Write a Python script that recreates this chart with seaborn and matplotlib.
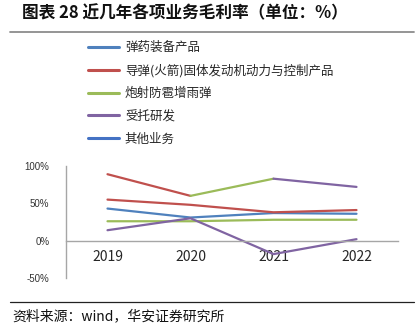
import matplotlib
matplotlib.use("Agg")
import matplotlib.pyplot as plt
from matplotlib.lines import Line2D
import seaborn as sns
import pandas as pd

sns.set_style("white")
plt.rcParams['font.family'] = ['Noto Sans CJK SC', 'DejaVu Sans']

years = ['2019', '2020', '2021', '2022']
series_names = ['弹药装备产品', '导弹(火箭)固体发动机动力与控制产品', '炮射防雹增雨弹', '受托研发', '其他业务']
series_colors = ['#4F81BD', '#C0504D', '#9BBB59', '#8064A2', '#4472C4']

ammo = [43, 31, 37, 36]
missile = [55, 48, 38, 41]
artillery = [26, 26, 28, 28]
entrusted = [14, 30, -18, 2]
# top line: drawn segment by segment, each segment in a different colour
top_line = [89, 60, 83, 72]
top_segment_colors = ['#C0504D', '#9BBB59', '#8064A2']

yticks = [-50, 0, 50, 100]
ytick_labels = ['-50%', '0%', '50%', '100%']

fig = plt.figure(figsize=(4.16, 3.32), dpi=100)
ax = fig.add_axes([66/416, 1 - 278/332, 332/416, 112/332])

xpos = list(range(len(years)))
main = [(ammo, series_colors[0]), (missile, series_colors[1]),
        (artillery, series_colors[2]), (entrusted, series_colors[3])]
for vals, c in main:
    df = pd.DataFrame({'x': xpos, 'y': vals})
    sns.lineplot(data=df, x='x', y='y', color=c, lw=1.6, ax=ax, legend=False)

for i, c in enumerate(top_segment_colors):
    df = pd.DataFrame({'x': xpos[i:i+2], 'y': top_line[i:i+2]})
    sns.lineplot(data=df, x='x', y='y', color=c, lw=1.6, ax=ax, legend=False)

ax.set_xlim(-0.5, 3.5)
ax.set_ylim(-50, 100)
ax.set_xlabel('')
ax.set_ylabel('')
ax.set_yticks(yticks)
ax.set_yticklabels(ytick_labels, fontsize=7, family=['Liberation Sans', 'DejaVu Sans'], color='#333333')
ax.set_xticks(xpos)
ax.set_xticklabels(years, fontsize=7.8, family=['Liberation Sans', 'DejaVu Sans'], color='#222222')
ax.tick_params(axis='y', length=0, pad=12)
ax.tick_params(axis='x', length=0, pad=7)
for s in ['top', 'right']:
    ax.spines[s].set_visible(False)
ax.spines['bottom'].set_position(('data', 0))
ax.spines['bottom'].set_color('#A6A6A6')
ax.spines['left'].set_color('#A6A6A6')
ax.spines['bottom'].set_linewidth(1.0)
ax.spines['left'].set_linewidth(1.0)

handles = [Line2D([0], [0], color=c, lw=2.2) for c in series_colors]
fig.legend(handles, series_names, loc='upper left', bbox_to_anchor=(88/416, 1 - 41/332),
           frameon=False, fontsize=9, handlelength=2.5, handletextpad=0.45,
           labelspacing=0.78, borderaxespad=0, borderpad=0)

fig.text(22/416, 1 - 13/332, '图表 28 近几年各项业务毛利率（单位：%）', fontsize=12,
         fontweight='bold', va='center', ha='left', color='#111111')
fig.add_artist(Line2D([10/416, 414/416], [1 - 32/332, 1 - 32/332], color='#8C8C8C', lw=1.3))
fig.add_artist(Line2D([10/416, 414/416], [1 - 301.5/332, 1 - 301.5/332], color='#222222', lw=0.9))
fig.text(12/416, 1 - 316/332, '资料来源：wind，华安证券研究所', fontsize=10,
         va='center', ha='left', color='#111111')

fig.savefig('out.png', dpi=100)
